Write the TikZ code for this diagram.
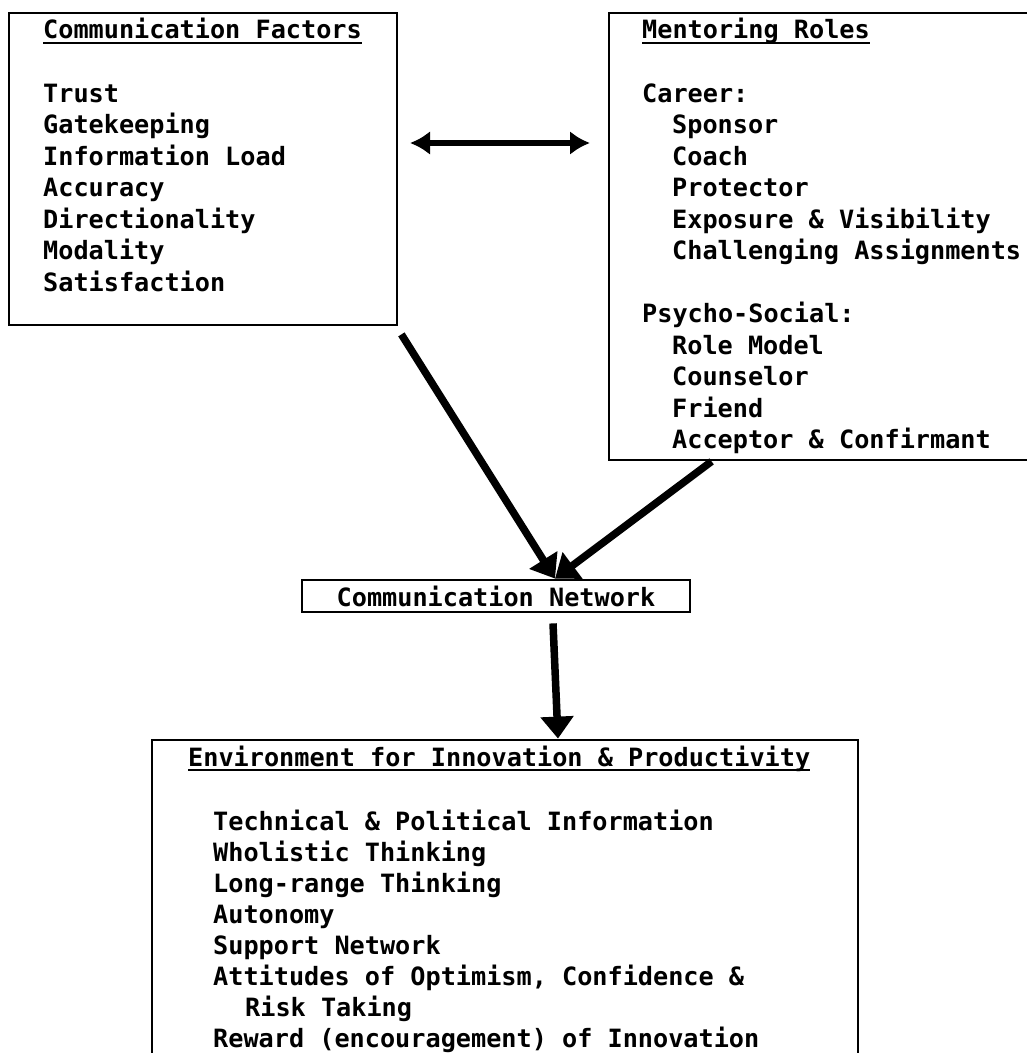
\documentclass[tikz,border=0pt]{standalone}
\usepackage{fontspec}
\newfontfamily\tw{DejaVu Sans Mono}
\usetikzlibrary{arrows.meta,calc}
% underline drawn at a fixed depth, crossing descenders like a typewriter rule
\newcommand\ulin[1]{\setbox0\hbox{#1}\rlap{\rule[-5pt]{\wd0}{1.8pt}}\box0}

\begin{document}
\begin{tikzpicture}[x=1pt,y=-1pt,
  frame/.style={draw, line width=2.8pt, inner sep=0pt, rectangle},
  txt/.style={anchor=base west, inner sep=0pt},
  link/.style={line width=7.5pt, -{Triangle[length=22pt,width=32pt]}},
  font=\tw\bfseries\fontsize{25.2}{31.5}\selectfont]
\useasboundingbox (0,0) rectangle (1027,1053);
\fill[white] (0,0) rectangle (1027,1053);
\clip (0,0) rectangle (1027,1053);

% boxes
\node[frame, minimum width=388pt, minimum height=312pt] (cf) at (203,169) {};
\node[frame, minimum width=436pt, minimum height=447pt] (mr) at (827,236.5) {};
\node[frame, minimum width=388pt, minimum height=32pt] (cn) at (496,596) {Communication Network};
\node[frame, minimum width=706pt, minimum height=340pt] (env) at (505,910) {};

% Communication Factors
\node[txt] (cft) at (43,38.5) {\ulin{Communication Factors}};
\foreach \t [count=\i] in {Trust,Gatekeeping,Information Load,Accuracy,Directionality,Modality,Satisfaction}
  \node[txt] (cf\i) at (43,{102+(\i-1)*31.5}) {\t};

% Mentoring Roles
\node[txt] (mrt) at (642,38.5) {\ulin{Mentoring Roles}};
\node[txt] (mrc) at (642,102) {Career:};
\foreach \t [count=\i] in {Sponsor,Coach,Protector,Exposure \& Visibility,Challenging Assignments}
  \node[txt] (mrc\i) at (672,{102+\i*31.5}) {\t};
\node[txt] (mrp) at (642,322.5) {Psycho-Social:};
\foreach \t [count=\i] in {Role Model,Counselor,Friend,Acceptor \& Confirmant}
  \node[txt] (mrp\i) at (672,{322.5+\i*31.5}) {\t};

% Environment for Innovation & Productivity
\node[txt] (envt) at (188,766) {\ulin{Environment for Innovation \& Productivity}};
\foreach \t/\dx [count=\i] in {Technical \& Political Information/0,Wholistic Thinking/0,Long-range Thinking/0,Autonomy/0,Support Network/0,{Attitudes of Optimism, Confidence \&}/0,Risk Taking/32,Reward (encouragement) of Innovation/0}
  \node[txt] (env\i) at ({213+\dx},{830+(\i-1)*31}) {\t};

% connectors
\coordinate (la) at (410,143);
\coordinate (ra) at (590,143);
\draw[line width=6pt, {Latex[length=20pt,width=24pt]}-{Latex[length=20pt,width=24pt]}] (la) -- (ra);
\draw[link] ([xshift=3pt,yshift=-8pt]cf.south east) -- ([xshift=59pt]cn.north);
\draw[link] ([xshift=104pt]mr.south west) -- ([xshift=59pt]cn.north);
\draw[link] ([xshift=57pt,yshift=-10pt]cn.south) -- ([xshift=53pt]env.north);
\end{tikzpicture}
\end{document}
